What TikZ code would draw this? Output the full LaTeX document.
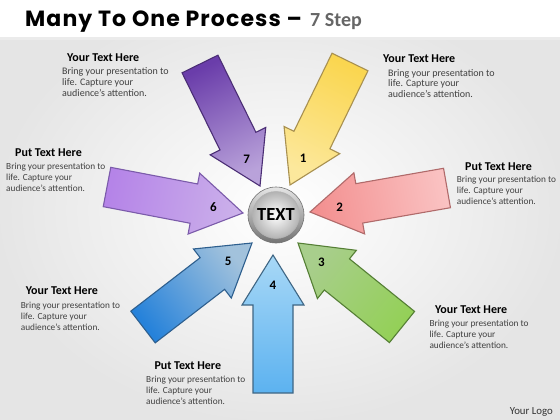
\documentclass[tikz,border=0pt]{standalone}
\usepackage{fontspec}
\setmainfont{Carlito}
\newfontfamily\titlefont[LetterSpace=5]{Poppins}
\usetikzlibrary{calc}
\definecolor{o7}{HTML}{4B2E75}\definecolor{t7}{HTML}{6A3DAA}\definecolor{h7}{HTML}{B9A2DA}
\definecolor{o1}{HTML}{A89050}\definecolor{t1}{HTML}{FAD650}\definecolor{h1}{HTML}{FCE89C}
\definecolor{o2}{HTML}{B06A6A}\definecolor{t2}{HTML}{FAC2C2}\definecolor{h2}{HTML}{F39090}
\definecolor{o3}{HTML}{557F35}\definecolor{t3}{HTML}{94D058}\definecolor{h3}{HTML}{A8CE8C}
\definecolor{o4}{HTML}{3F6684}\definecolor{t4}{HTML}{5CB2F0}\definecolor{h4}{HTML}{A8D8F6}
\definecolor{o5}{HTML}{2E5F8E}\definecolor{t5}{HTML}{2682DA}\definecolor{h5}{HTML}{A2C2DC}
\definecolor{o6}{HTML}{7B5BAA}\definecolor{t6}{HTML}{B584E8}\definecolor{h6}{HTML}{CBB0EA}
\newcommand{\manyarrow}[5]{%
  % #1 name, #2 tip, #3 tail, #4 style, #5 number
  \coordinate (#1tip) at #2;
  \coordinate (#1tail) at #3;
  \coordinate (#1hb) at ($(#1tip)!50pt!(#1tail)$);
  \path[#4] (#1tip) -- ($(#1hb)!31pt!90:(#1tail)$) -- ($(#1hb)!20pt!90:(#1tail)$)
    -- ($(#1tail)!20pt!-90:(#1hb)$) -- ($(#1tail)!20pt!90:(#1hb)$)
    -- ($(#1hb)!20pt!-90:(#1tail)$) -- ($(#1hb)!31pt!-90:(#1tail)$) -- cycle;
  \node[numlab] (#1num) at ($(#1tip)!30pt!(#1tail)$) {#5};
}
\begin{document}
\begin{tikzpicture}[x=1pt,y=-1pt,
  numlab/.style={inner sep=0, font=\fontsize{13}{15}\selectfont\bfseries, text=black},
  head/.style={anchor=base west, inner sep=0, font=\fontsize{12}{14}\selectfont\bfseries, text=black},
  body/.style={anchor=base west, inner sep=0, align=left, font=\fontsize{9.3}{11.2}\selectfont, text=black!75},
  arr/.style={draw=#1, line width=1.1pt, line join=miter}]
\useasboundingbox (0,0) rectangle (560,420);
% background
\shade[inner color=white, outer color=black!10] (0,0) rectangle (560,420);
\fill[white] (0,0) rectangle (560,37);
\fill[black!8] (0,37) rectangle (560,40);
% title
\node[anchor=base west, inner sep=0, font=\titlefont\fontsize{22}{24}\selectfont\bfseries] (title) at (25,27) {Many To One Process –};
\node[anchor=base west, inner sep=0, font=\fontsize{20}{24}\selectfont\bfseries, text=black!60] (step) at (310,27) {7 Step};
% arrows
\manyarrow{a7}{(260,186)}{(200,64)}{arr=o7, top color=t7, bottom color=h7, shading angle=26.2}{7}
\manyarrow{a1}{(290,185)}{(350,62)}{arr=o1, top color=t1, bottom color=h1, shading angle=-26}{1}
\manyarrow{a2}{(310,212)}{(447,188)}{arr=o2, top color=t2, bottom color=h2, shading angle=-80.1}{2}
\manyarrow{a3}{(298,243)}{(402,327)}{arr=o3, top color=t3, bottom color=h3, shading angle=-128.9}{3}
\manyarrow{a4}{(273,255)}{(273,393)}{arr=o4, top color=t4, bottom color=h4, shading angle=-180}{4}
\manyarrow{a5}{(252,243)}{(143,327)}{arr=o5, top color=t5, bottom color=h5, shading angle=127.6}{5}
\manyarrow{a6}{(243,213)}{(107,187)}{arr=o6, top color=t6, bottom color=h6, shading angle=79.2}{6}
% centre
\node[circle, minimum size=56pt, inner sep=0, draw=black!55, line width=0.6pt, top color=black!10, bottom color=black!55] (ring) at (276,215) {};
\node[circle, minimum size=47pt, inner sep=0, draw=black!30, line width=0.5pt, inner color=white, outer color=black!30, font=\fontsize{18.5}{20}\selectfont\bfseries] (centre) at (276,215) {TEXT};
% text blocks (body nodes anchored at the baseline of their last line)
\node[head] (hd7) at (67,62) {Your Text Here};
\node[body, font=\fontsize{10}{10.8}\selectfont] (b7) at (62,96.6) {Bring your presentation to\\life. Capture your\\audience's attention.};
\node[head] (hd1) at (383,63) {Your Text Here};
\node[body, font=\fontsize{10}{10.8}\selectfont] (b1) at (388,97.6) {Bring your presentation to\\life. Capture your\\audience's attention.};
\node[head] (hd6) at (15,157) {Put Text Here};
\node[body] (b6) at (6,191.9) {Bring your presentation to\\life. Capture your\\audience's attention.};
\node[head] (hd2) at (465,170.5) {Put Text Here};
\node[body, font=\fontsize{9.3}{11}\selectfont] (b2) at (456.7,204) {Bring your presentation to\\life. Capture your\\audience's attention.};
\node[head] (hd5) at (25.7,294) {Your Text Here};
\node[body] (b5) at (20.7,330.4) {Bring your presentation to\\life. Capture your\\audience's attention.};
\node[head] (hd4) at (154.3,369.5) {Put Text Here};
\node[body] (b4) at (146,404.4) {Bring your presentation to\\life. Capture your\\audience's attention.};
\node[head] (hd3) at (435,313) {Your Text Here};
\node[body] (b3) at (429.3,348.4) {Bring your presentation to\\life. Capture your\\audience's attention.};
\node[anchor=base east, inner sep=0, font=\fontsize{10.8}{12}\selectfont, text=black!80] (logo) at (553,414) {Your Logo};
\end{tikzpicture}
\end{document}
